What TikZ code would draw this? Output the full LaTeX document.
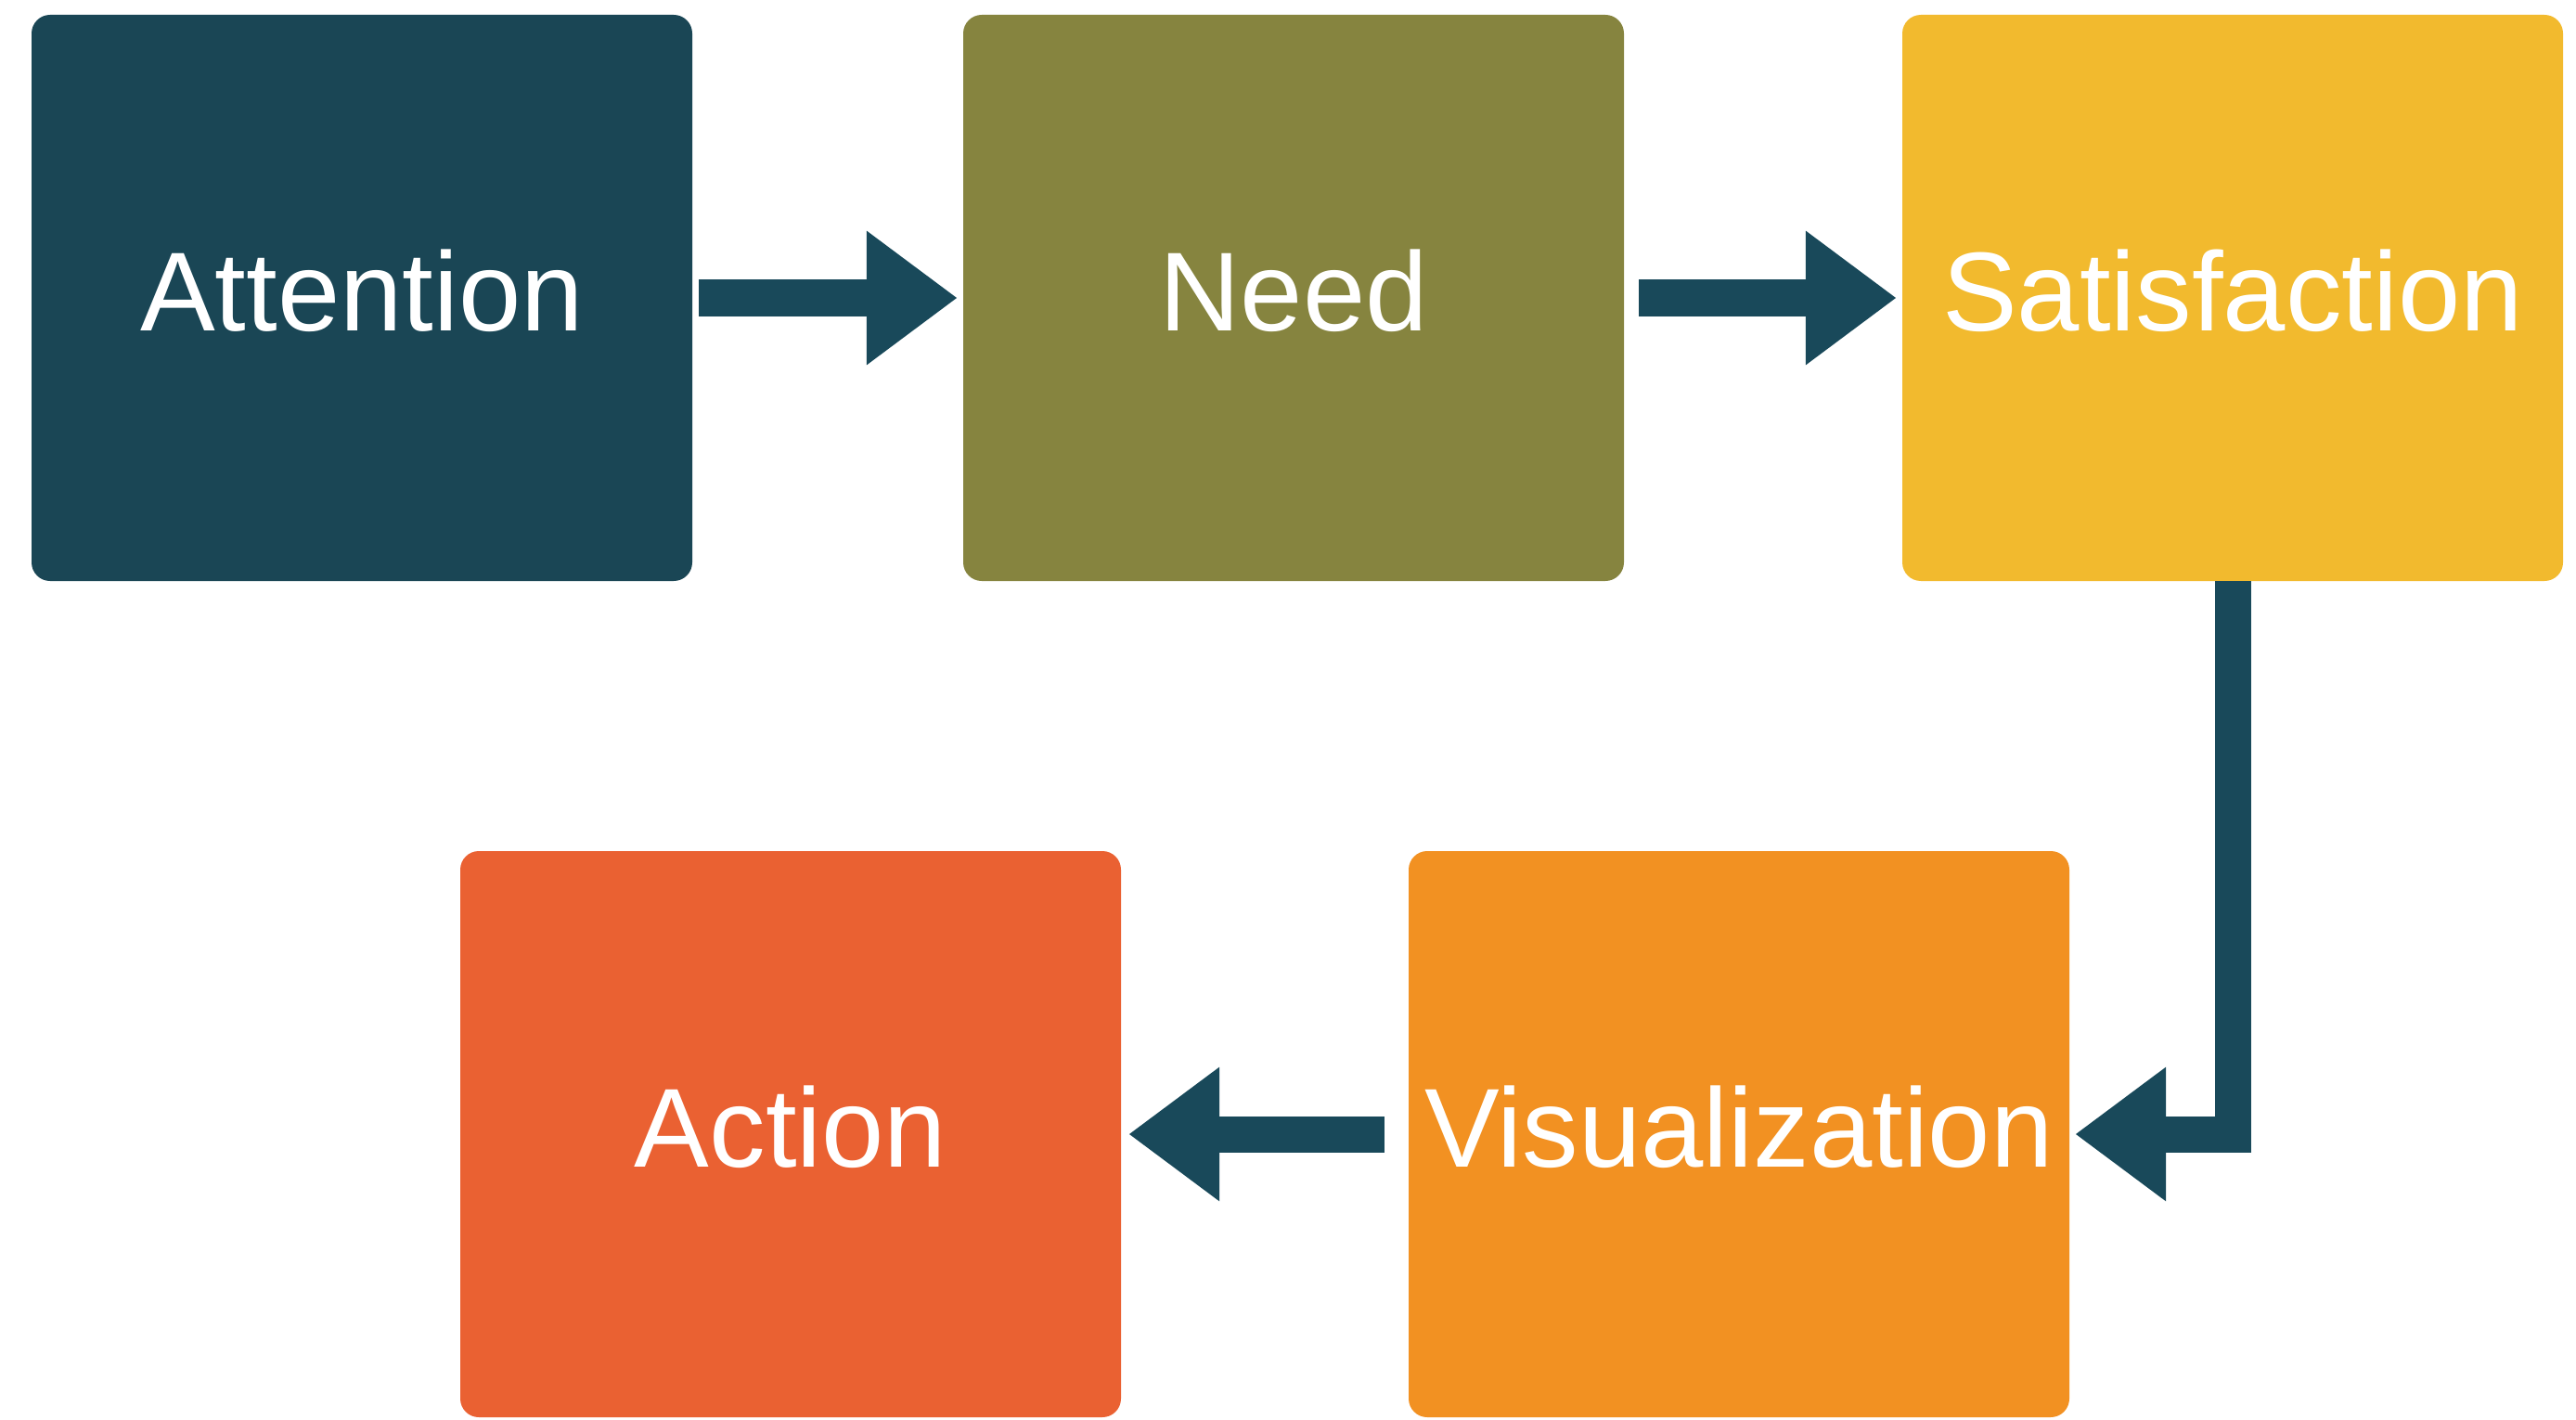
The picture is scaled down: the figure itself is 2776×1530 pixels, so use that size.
\documentclass[tikz,border=0pt]{standalone}
\usepackage{fontspec}
\setmainfont{Liberation Sans}
\usetikzlibrary{
    arrows.meta, % Triangle tips
    positioning
}
\definecolor{attentionteal}{HTML}{1A4655}
\definecolor{needolive}{HTML}{86843F}
\definecolor{satyellow}{HTML}{F2BA2E}
\definecolor{visorange}{HTML}{F29122}
\definecolor{actionred}{HTML}{EA6132}
\definecolor{flowteal}{HTML}{19495A}

\begin{document}
\begin{tikzpicture}[x=1pt, y=-1pt,
    stage/.style={rectangle, rounded corners=20pt, inner sep=0pt,
                  minimum width=712pt, minimum height=610pt,
                  text=white, text depth=16pt,
                  font=\fontsize{121}{121}\selectfont},
    flow/.style={draw=flowteal, line width=39pt,
                 -{Triangle[length=98pt, width=138pt]}}]
    \useasboundingbox (0,0) rectangle (2776,1530);

    \node[stage, fill=attentionteal] (attention)     at (390,321)   {Attention};
    \node[stage, fill=needolive]     (need)          at (1394,321)  {Need};
    \node[stage, fill=satyellow]     (satisfaction)  at (2406,321)  {Satisfaction};
    \node[stage, fill=actionred]     (action)        at (852,1222)  {Action};
    \node[stage, fill=visorange]     (visualization) at (1874,1222) {Visualization};

    \draw[flow, shorten <=7pt, shorten >=6pt]  (attention) -- (need);
    \draw[flow, shorten <=16pt, shorten >=6pt] (need) -- (satisfaction);
    \draw[flow, shorten >=6pt] (satisfaction.south) |- (visualization.east);
    \draw[flow, shorten <=26pt, shorten >=8pt] (visualization) -- (action);
\end{tikzpicture}
\end{document}
